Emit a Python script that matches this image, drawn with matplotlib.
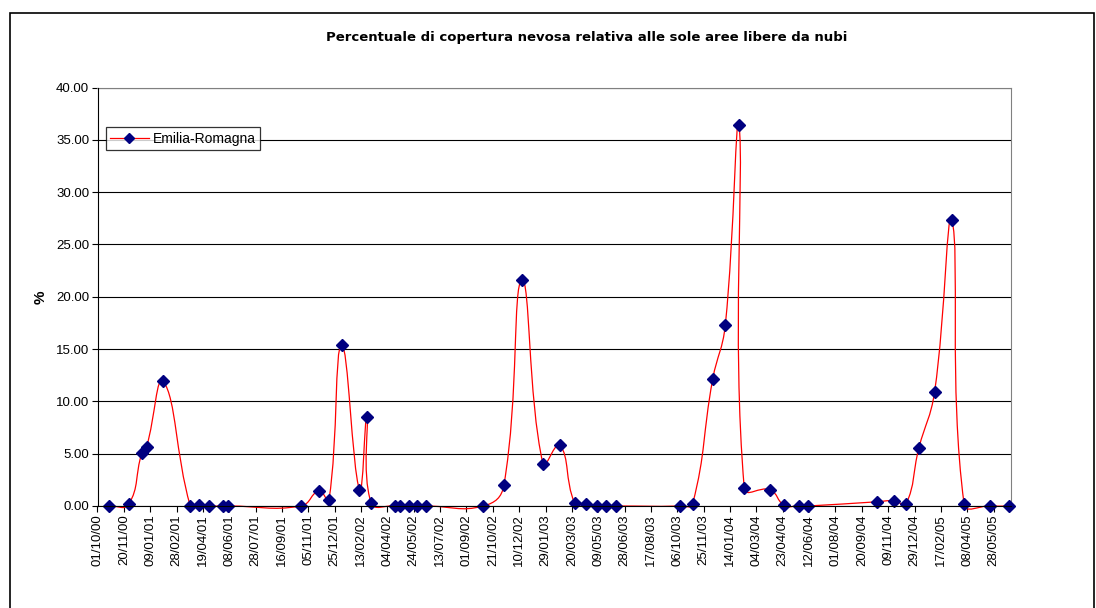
import matplotlib
matplotlib.use("Agg")
import matplotlib.pyplot as plt
import matplotlib.dates as mdates
from matplotlib.path import Path
from matplotlib.patches import PathPatch, Rectangle
from matplotlib.lines import Line2D
import numpy as np
import pandas as pd

plt.rcParams["font.family"] = ["Liberation Sans", "DejaVu Sans"]

# Acquisition dates and snow cover (% of cloud-free area)
dates = [
    "23/10/2000", "29/11/2000", "24/12/2000", "02/01/2001", "03/02/2001",
    "26/03/2001", "11/04/2001", "01/05/2001", "27/05/2001", "06/06/2001",
    "22/10/2001", "25/11/2001", "14/12/2001", "07/01/2002", "10/02/2002",
    "24/02/2002", "04/03/2002", "19/04/2002", "27/04/2002", "15/05/2002",
    "30/05/2002", "16/06/2002", "03/10/2002", "11/11/2002", "15/12/2002",
    "24/01/2003", "25/02/2003", "25/03/2003", "15/04/2003", "06/05/2003",
    "23/05/2003", "12/06/2003", "11/10/2003", "04/11/2003", "12/12/2003",
    "05/01/2004", "31/01/2004", "10/02/2004", "30/03/2004", "26/04/2004",
    "23/05/2004", "10/06/2004", "18/10/2004", "20/11/2004", "13/12/2004",
    "06/01/2005", "05/02/2005", "10/03/2005", "02/04/2005", "21/05/2005",
    "26/06/2005",
]
cover = [
    0.00, 0.15, 5.05, 5.65, 11.90,
    0.00, 0.10, 0.00, 0.00, 0.00,
    0.00, 1.45, 0.55, 15.40, 1.55,
    8.50, 0.30, 0.00, 0.00, 0.00,
    0.00, 0.00, 0.00, 2.00, 21.60,
    4.05, 5.85, 0.30, 0.15, 0.00,
    0.00, 0.00, 0.00, 0.20, 12.10,
    17.30, 36.45, 1.70, 1.55, 0.05,
    0.00, 0.00, 0.40, 0.50, 0.20,
    5.50, 10.90, 27.30, 0.20, 0.00,
    0.00,
]
series_name = "Emilia-Romagna"
title = "Percentuale di copertura nevosa relativa alle sole aree libere da nubi"

x = mdates.date2num(pd.to_datetime(dates, format="%d/%m/%Y"))
y = np.array(cover)

start = mdates.date2num(pd.Timestamp("2000-10-01"))
x_span = 1733
y_max = 40
ax_w, ax_h = 913.5, 418.5  # plot area in pixels


def smooth_path(xs, ys, t=0.45):
    # bezier through every point; control arms scale with the adjacent
    # segment lengths (measured on screen), so short steps don't overshoot
    sx, sy = ax_w / x_span, ax_h / y_max
    pts = np.column_stack([(xs - start) * sx, ys * sy])
    n = len(pts)
    c_in = pts.copy()
    c_out = pts.copy()
    for i in range(n):
        p0 = pts[max(i - 1, 0)]
        p1 = pts[i]
        p2 = pts[min(i + 1, n - 1)]
        d01 = np.hypot(*(p1 - p0))
        d12 = np.hypot(*(p2 - p1))
        if d01 + d12 == 0:
            continue
        c_in[i] = p1 - t * d01 / (d01 + d12) * (p2 - p0)
        c_out[i] = p1 + t * d12 / (d01 + d12) * (p2 - p0)
    verts = [pts[0]]
    codes = [Path.MOVETO]
    for i in range(n - 1):
        verts += [c_out[i], c_in[i + 1], pts[i + 1]]
        codes += [Path.CURVE4] * 3
    verts = np.array(verts)
    verts[:, 0] = verts[:, 0] / sx + start
    verts[:, 1] = verts[:, 1] / sy
    return Path(verts, codes)


fig = plt.figure(figsize=(10.96, 6.08), dpi=100)
ax = fig.add_axes([97.5 / 1096, 102 / 608, ax_w / 1096, ax_h / 608])

# outer chart border
fig.patches.append(Rectangle((9.5 / 1096, -0.1), 1084.5 / 1096, 1.1 - 13 / 608,
                             transform=fig.transFigure, fill=False,
                             edgecolor="black", linewidth=1.2))

ax.add_patch(PathPatch(smooth_path(x, y), facecolor="none", edgecolor="red",
                       linewidth=0.9, zorder=3, clip_on=False))
ax.plot(x, y, linestyle="none", marker="D", markersize=6,
        color="#000080", zorder=4, clip_on=False)

ax.set_xlim(start, start + x_span)
ax.set_ylim(0, y_max)
ax.set_xticks([start + 50 * k for k in range(35)])
ax.xaxis.set_major_formatter(mdates.DateFormatter("%d/%m/%y"))
ax.set_yticks(np.arange(0, 40.1, 5))
ax.yaxis.set_major_formatter(matplotlib.ticker.FormatStrFormatter("%.2f"))
ax.tick_params(axis="x", labelrotation=90, labelsize=9.5, length=4, width=0.8,
               direction="out", pad=2)
ax.tick_params(axis="y", labelsize=9.5, length=4, width=0.8, direction="out", pad=2)

ax.grid(axis="y", color="black", linewidth=0.8)
ax.set_axisbelow(True)
for side in ["top", "right"]:
    ax.spines[side].set_color("#808080")
for side in ["left", "bottom"]:
    ax.spines[side].set_color("black")
    ax.spines[side].set_zorder(5)

ax.set_ylabel("%", fontsize=11, fontweight="bold", labelpad=6)
fig.text(587 / 1096, 1 - 37 / 608, title, ha="center", va="center",
         fontsize=9.5, fontweight="bold", family="DejaVu Sans")

handle = Line2D([], [], color="red", linewidth=0.9, marker="D", markersize=5,
                markerfacecolor="#000080", markeredgecolor="#000080")
leg = ax.legend([handle], [series_name], loc="upper left",
                bbox_to_anchor=(8 / ax_w, 1 - 40 / ax_h), fontsize=10,
                frameon=True, fancybox=False, borderpad=0.3,
                handlelength=2.8, handletextpad=0.3, borderaxespad=0)
leg.get_frame().set_edgecolor("black")
leg.get_frame().set_linewidth(0.9)

fig.savefig("out.png", dpi=100)
